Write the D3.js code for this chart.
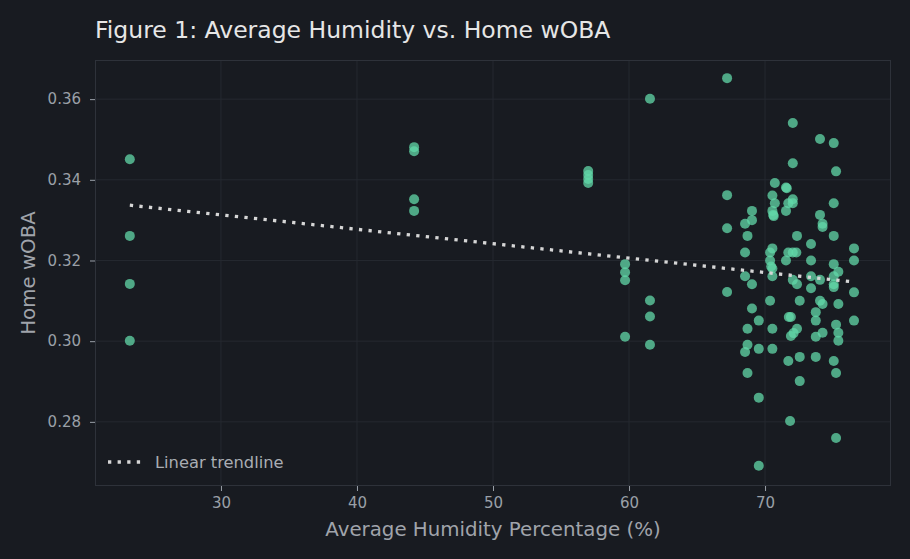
<!DOCTYPE html>
<html>
<head>
<meta charset="utf-8">
<script src="https://cdn.jsdelivr.net/npm/d3@7"></script>
<style>
  html, body { margin: 0; padding: 0; background: #181b21; }
  svg { display: block; font-family: "DejaVu Sans", sans-serif; }
</style>
</head>
<body>
<div id="container"></div>
<script>
// ---------- DATA ----------
const humidity = [
  23.3, 23.3, 23.3, 23.3,
  44.2, 44.2, 44.2, 44.2,
  57.0, 57.0, 57.0, 57.0,
  59.71, 59.71, 59.71, 59.71,
  61.54, 61.54, 61.54, 61.54,
  67.21, 67.21, 67.21, 67.21,
  72.04, 74.04, 75.05, 72.04, 75.22, 70.72, 71.54, 71.6, 70.54, 72.04,
  72.04, 71.71, 70.72, 75.05, 69.04, 70.54, 70.6, 70.64, 71.54, 74.04,
  74.23, 74.23, 69.04, 68.53, 72.35, 68.71, 75.05, 70.54, 70.37, 68.53,
  71.71, 72.04, 72.3, 73.38, 76.54, 70.37, 71.54, 73.38, 76.54, 75.05,
  70.45, 70.54, 70.54, 68.53, 75.39, 73.38, 75.05, 75.05, 74.04, 72.04,
  72.35, 69.04, 73.38, 76.54, 70.37, 72.55, 74.04, 74.23, 75.39, 69.04,
  73.73, 71.75, 71.9, 73.73, 69.54, 76.54, 75.22, 68.71, 70.54, 72.35,
  71.9, 72.1, 74.23, 75.39, 73.73, 75.39, 68.71, 69.54, 70.54, 68.53,
  71.71, 72.55, 73.73, 75.05, 68.71, 75.22, 72.55, 69.54, 71.84, 75.22,
  69.54, 75.05
];
const homeWoba = [
  0.3451, 0.3261, 0.3142, 0.3001,
  0.3481, 0.3471, 0.3352, 0.3323,
  0.3422, 0.3412, 0.3402, 0.3392,
  0.3191, 0.3171, 0.3151, 0.3011,
  0.3601, 0.3101, 0.3061, 0.2991,
  0.3652, 0.3362, 0.3280, 0.3122,
  0.3541, 0.3501, 0.3491, 0.3441, 0.3421, 0.3392, 0.3381, 0.3379, 0.3361, 0.3352,
  0.3342, 0.3342, 0.3342, 0.3342, 0.3323, 0.3323, 0.3313, 0.3310, 0.3323, 0.3313,
  0.3291, 0.3283, 0.3300, 0.3291, 0.3261, 0.3261, 0.3261, 0.3230, 0.3220, 0.3220,
  0.3220, 0.3220, 0.3220, 0.3241, 0.3230, 0.3200, 0.3200, 0.3200, 0.3200, 0.3191,
  0.3185, 0.3180, 0.3161, 0.3161, 0.3172, 0.3161, 0.3161, 0.3134, 0.3152, 0.3152,
  0.3141, 0.3141, 0.3131, 0.3121, 0.3100, 0.3100, 0.3100, 0.3092, 0.3092, 0.3081,
  0.3072, 0.3060, 0.3060, 0.3051, 0.3051, 0.3051, 0.3041, 0.3031, 0.3031, 0.3031,
  0.3013, 0.3020, 0.3021, 0.3021, 0.3011, 0.3001, 0.2991, 0.2981, 0.2981, 0.2973,
  0.2951, 0.2961, 0.2961, 0.2951, 0.2921, 0.2921, 0.2901, 0.2860, 0.2802, 0.2760,
  0.2691, 0.3141
];
const trendHumidity = [23.3, 76.5];
const trendWoba = [0.3337, 0.3147];

const xTicks = [30, 40, 50, 60, 70];
const yTicks = [0.28, 0.30, 0.32, 0.34, 0.36];

// ---------- DIMENSIONS ----------
const width = 910;
const height = 559;
const marginTop = 60;
const marginRight = 19;
const marginBottom = 73;
const marginLeft = 95;

const svg = d3.select('#container').append('svg')
  .attr('width', width)
  .attr('height', height);

svg.append('rect')
  .attr('width', width)
  .attr('height', height)
  .attr('fill', '#181b21');

// ---------- SCALES ----------
const x = d3.scaleLinear()
  .domain([20.74, 79.26])
  .range([marginLeft, width - marginRight]);

const y = d3.scaleLinear()
  .domain([0.2641, 0.3697])
  .range([height - marginBottom, marginTop]);

// ---------- GRID ----------
const grid = svg.append('g').attr('stroke', '#252930').attr('stroke-width', 1);
grid.selectAll('.gx').data(xTicks).join('line')
  .attr('x1', d => x(d)).attr('x2', d => x(d))
  .attr('y1', marginTop).attr('y2', height - marginBottom);
grid.selectAll('.gy').data(yTicks).join('line')
  .attr('x1', marginLeft).attr('x2', width - marginRight)
  .attr('y1', d => y(d)).attr('y2', d => y(d));

// ---------- FRAME ----------
svg.append('rect')
  .attr('x', marginLeft + 0.5)
  .attr('y', marginTop + 0.5)
  .attr('width', width - marginLeft - marginRight - 1)
  .attr('height', height - marginTop - marginBottom - 1)
  .attr('fill', 'none')
  .attr('stroke', '#2e323a');

// ---------- AXES ----------
const xAxis = svg.append('g')
  .attr('transform', `translate(0,${height - marginBottom})`)
  .call(d3.axisBottom(x).tickValues(xTicks).tickSize(5).tickPadding(6).tickFormat(d3.format('d')));

const yAxis = svg.append('g')
  .attr('transform', `translate(${marginLeft},0)`)
  .call(d3.axisLeft(y).tickValues(yTicks).tickSize(5).tickPadding(9).tickFormat(d3.format('.2f')));

[xAxis, yAxis].forEach(a => {
  a.select('.domain').remove();
  a.selectAll('.tick line').attr('stroke', '#9aa0a8');
  a.selectAll('.tick text')
    .attr('fill', '#9aa0a8')
    .style('font-size', '15px')
    .style('font-family', '"DejaVu Sans", sans-serif');
});

// ---------- POINTS ----------
const points = humidity.map((h, i) => ({ h, w: homeWoba[i] }));

svg.append('g')
  .selectAll('circle')
  .data(points)
  .join('circle')
  .attr('cx', d => x(d.h))
  .attr('cy', d => y(d.w))
  .attr('r', 5)
  .attr('fill', '#62d8a8')
  .attr('fill-opacity', 0.75);

// ---------- TRENDLINE ----------
const trend = trendHumidity.map((h, i) => [h, trendWoba[i]]);
svg.append('path')
  .datum(trend)
  .attr('d', d3.line().x(d => x(d[0])).y(d => y(d[1])))
  .attr('fill', 'none')
  .attr('stroke', '#d6d6d6')
  .attr('stroke-width', 3.3)
  .attr('stroke-dasharray', '3.3,6.3');

// ---------- LEGEND ----------
const legend = svg.append('g').attr('transform', `translate(108,${height - marginBottom - 24})`);
legend.append('line')
  .attr('x1', 0).attr('x2', 36)
  .attr('stroke', '#d6d6d6')
  .attr('stroke-width', 3.3)
  .attr('stroke-dasharray', '3.3,6.3');
legend.append('text')
  .attr('x', 47)
  .attr('dy', '0.35em')
  .attr('fill', '#a9adb3')
  .style('font-size', '16.3px')
  .text('Linear trendline');

// ---------- TITLES ----------
svg.append('text')
  .attr('x', 95)
  .attr('y', 38)
  .attr('fill', '#e6e6e6')
  .style('font-size', '23.5px')
  .text('Figure 1: Average Humidity vs. Home wOBA');

svg.append('text')
  .attr('x', (marginLeft + width - marginRight) / 2)
  .attr('y', 536)
  .attr('text-anchor', 'middle')
  .attr('fill', '#a0a4ab')
  .style('font-size', '19.8px')
  .text('Average Humidity Percentage (%)');

svg.append('text')
  .attr('transform', `translate(35,${(marginTop + height - marginBottom) / 2}) rotate(-90)`)
  .attr('text-anchor', 'middle')
  .attr('fill', '#a0a4ab')
  .style('font-size', '19.8px')
  .text('Home wOBA');
</script>
</body>
</html>
